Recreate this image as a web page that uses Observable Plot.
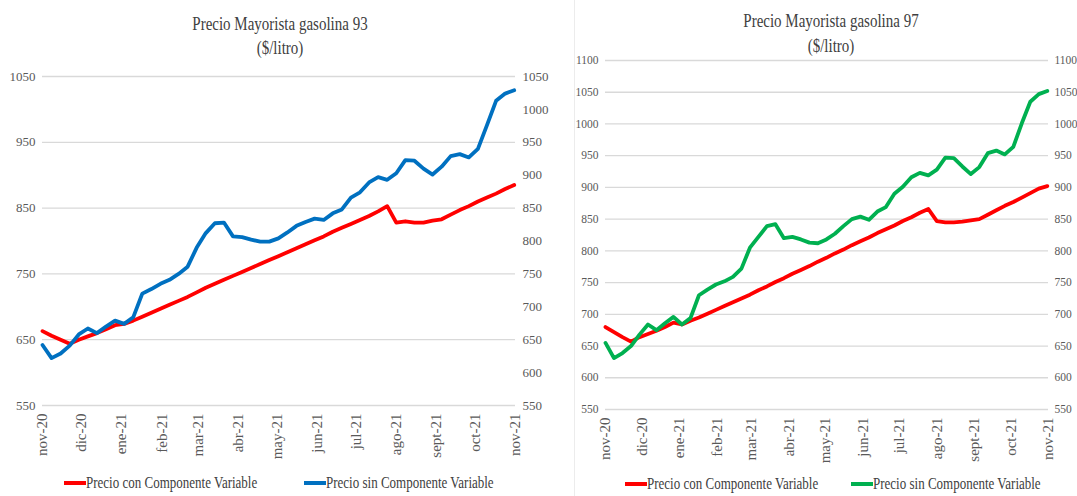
<!DOCTYPE html>
<html>
<head>
<meta charset="utf-8">
<script src="https://cdn.jsdelivr.net/npm/d3@7"></script>
<script src="https://cdn.jsdelivr.net/npm/@observablehq/plot@0.6"></script>
<style>
  html, body { margin: 0; padding: 0; background: #fff; }
  body { width: 1077px; height: 496px; overflow: hidden; position: relative;
         font-family: "Liberation Serif", "Times New Roman", serif; }
  svg, svg text { font-family: "Liberation Serif", "Times New Roman", serif !important; }
  .abs { position: absolute; }
  .title { position: absolute; text-align: center; color: #404040; font-size: 15px;
           font-family: "Liberation Serif", "Times New Roman", serif;
           line-height: 24px; white-space: nowrap; transform: scaleY(1.3); }
  .lg-text { position: absolute; color: #404040; font-size: 13px; height: 18px; line-height: 18px;
             font-family: "Liberation Serif", "Times New Roman", serif;
             white-space: nowrap; transform: scaleY(1.25); transform-origin: left center; }
  .lg-sw { position: absolute; height: 4px; width: 22px; }
</style>
</head>
<body>
<div id="frame" class="abs" style="left:574px;top:0;width:503px;height:496px;border-left:1px solid #ececec;"></div>
<div id="left" class="abs" style="left:0;top:0;"></div>
<div id="right" class="abs" style="left:560px;top:0;"></div>
<div id="overlay"></div>
<script>
// ---- Data (weekly, nov-2020 .. oct-2021) ----
const weeks = [
  "2020-11-01","2020-11-08","2020-11-15","2020-11-22","2020-11-29",
  "2020-12-06","2020-12-13","2020-12-20","2020-12-27",
  "2021-01-03","2021-01-10","2021-01-17","2021-01-24","2021-01-31",
  "2021-02-07","2021-02-14","2021-02-21","2021-02-28",
  "2021-03-07","2021-03-14","2021-03-21","2021-03-28",
  "2021-04-04","2021-04-11","2021-04-18","2021-04-25",
  "2021-05-02","2021-05-09","2021-05-16","2021-05-23","2021-05-30",
  "2021-06-06","2021-06-13","2021-06-20","2021-06-27",
  "2021-07-04","2021-07-11","2021-07-18","2021-07-25",
  "2021-08-01","2021-08-08","2021-08-15","2021-08-22","2021-08-29",
  "2021-09-05","2021-09-12","2021-09-19","2021-09-26",
  "2021-10-03","2021-10-10","2021-10-17","2021-10-24","2021-10-31"
];

// Gasolina 93
const g93Con = [663,656,650,644,650,655,660,666,672,674,679,685,691,697,703,709,715,722,729,735,741,747,753,759,765,771,777,783,789,795,801,807,814,820,826,832,838,845,853,828,830,828,828,831,833,840,847,853,860,866,872,879,885];
const g93Sin = [642,622,629,641,658,667,660,670,679,674,684,720,727,735,741,750,761,790,812,827,828,807,806,802,799,799,804,813,823,829,834,832,842,848,866,874,889,897,893,903,923,922,910,901,913,929,932,927,940,976,1013,1024,1029];

// Gasolina 97
const g97Con = [680,672,664,657,664,669,674,680,687,684,690,695,701,707,713,719,725,731,738,744,751,757,764,770,776,783,789,796,802,809,815,821,828,834,840,847,853,860,866,847,845,845,846,848,850,857,864,871,877,884,891,898,902];
const g97Sin = [655,631,639,650,668,684,675,686,696,684,694,730,739,747,752,759,772,805,822,839,842,820,822,818,813,812,818,827,839,850,854,849,862,869,890,901,916,923,919,928,947,946,933,921,932,954,958,952,964,1001,1035,1047,1052];

// Axis ticks and labels
const monthTicks = ["2020-11-01","2020-12-01","2021-01-01","2021-02-01","2021-03-01","2021-04-01","2021-05-01","2021-06-01","2021-07-01","2021-08-01","2021-09-01","2021-10-01","2021-11-01"];
const monthLabels = ["nov-20","dic-20","ene-21","feb-21","mar-21","abr-21","may-21","jun-21","jul-21","ago-21","sept-21","oct-21","nov-21"];
const y93Left = [550,650,750,850,950,1050];
const y93Right = [550,600,650,700,750,800,850,900,950,1000,1050];
const y97Ticks = [550,600,650,700,750,800,850,900,950,1000,1050,1100];

const seriesNames = ["Precio con Componente Variable","Precio sin Componente Variable"];
const titles = ["Precio Mayorista gasolina 93","Precio Mayorista gasolina 97"];
const subtitle = "($/litro)";
const colRed = "#FF0000", colBlue = "#0070C0", colGreen = "#00B050";

// ---- Build ----
const parse = d3.utcParse("%Y-%m-%d");
const weekDates = weeks.map(parse);
const tickDates = monthTicks.map(parse);
const labelByTime = new Map(tickDates.map((d, i) => [+d, monthLabels[i]]));
const rows = arr => weekDates.map((d, i) => ({date: d, v: arr[i]}));
const FONT = "'Liberation Serif','Times New Roman',serif";

function chart({width, height, ml, mr, mt, mb, yDomain, grid, leftTicks, rightTicks, padL, padR, yFont, series}) {
  return Plot.plot({
    width, height,
    marginLeft: ml, marginRight: mr, marginTop: mt, marginBottom: mb,
    style: {fontFamily: FONT, background: "transparent", overflow: "visible", color: "#595959"},
    x: {type: "utc", domain: [tickDates[0], tickDates[tickDates.length - 1]]},
    y: {domain: yDomain},
    marks: [
      Plot.gridY({ticks: grid, stroke: "#d9d9d9", strokeOpacity: 1, strokeWidth: 1.3}),
      Plot.axisY({ticks: leftTicks, anchor: "left", tickSize: 0, tickPadding: padL, label: null, tickFormat: d => String(d), fontSize: yFont, color: "#595959"}),
      Plot.axisY({ticks: rightTicks, anchor: "right", tickSize: 0, tickPadding: padR, label: null, tickFormat: d => String(d), fontSize: yFont, color: "#595959"}),
      Plot.axisX({ticks: tickDates, tickFormat: d => labelByTime.get(+d), tickRotate: -90, tickSize: 0, tickPadding: 8, label: null, fontSize: 15, color: "#595959"}),
      ...series.map(s => Plot.lineY(rows(s.values), {x: "date", y: "v", stroke: s.color, strokeWidth: 3.8, strokeLinejoin: "round", strokeLinecap: "round"}))
    ]
  });
}

document.getElementById("left").append(chart({
  width: 545, height: 470, ml: 42, mr: 30, mt: 76, mb: 65,
  yDomain: [550, 1050], grid: y93Left, leftTicks: y93Left, rightTicks: y93Right, padL: 7, padR: 7, yFont: 13,
  series: [{values: g93Con, color: colRed}, {values: g93Sin, color: colBlue}]
}));

document.getElementById("right").append(chart({
  width: 517, height: 470, ml: 45, mr: 29, mt: 60, mb: 61,
  yDomain: [550, 1100], grid: y97Ticks, leftTicks: y97Ticks, rightTicks: y97Ticks, padL: 7, padR: 6, yFont: 11.5,
  series: [{values: g97Con, color: colRed}, {values: g97Sin, color: colGreen}]
}));

// ---- Titles & legends (HTML) ----
const ov = document.getElementById("overlay");
function addTitle(cx, y1, y2, text) {
  [[y1, text], [y2, subtitle]].forEach(([cy, t]) => {
    const d = document.createElement("div");
    d.className = "title";
    d.textContent = t;
    d.style.left = (cx - 150) + "px";
    d.style.width = "300px";
    d.style.top = (cy - 12) + "px";
    ov.append(d);
  });
}
addTitle(280, 23, 47, titles[0]);
addTitle(831, 20, 45, titles[1]);

function addLegendItem(x, cy, color, text) {
  const sw = document.createElement("div");
  sw.className = "lg-sw";
  sw.style.left = x + "px";
  sw.style.top = (cy - 2) + "px";
  sw.style.background = color;
  ov.append(sw);
  const t = document.createElement("div");
  t.className = "lg-text";
  t.textContent = text;
  t.style.left = (x + 22) + "px";
  t.style.top = (cy - 9) + "px";
  ov.append(t);
}
addLegendItem(64, 483, colRed, seriesNames[0]);
addLegendItem(304, 483, colBlue, seriesNames[1]);
addLegendItem(625, 484, colRed, seriesNames[0]);
addLegendItem(851, 484, colGreen, seriesNames[1]);
</script>
</body>
</html>
